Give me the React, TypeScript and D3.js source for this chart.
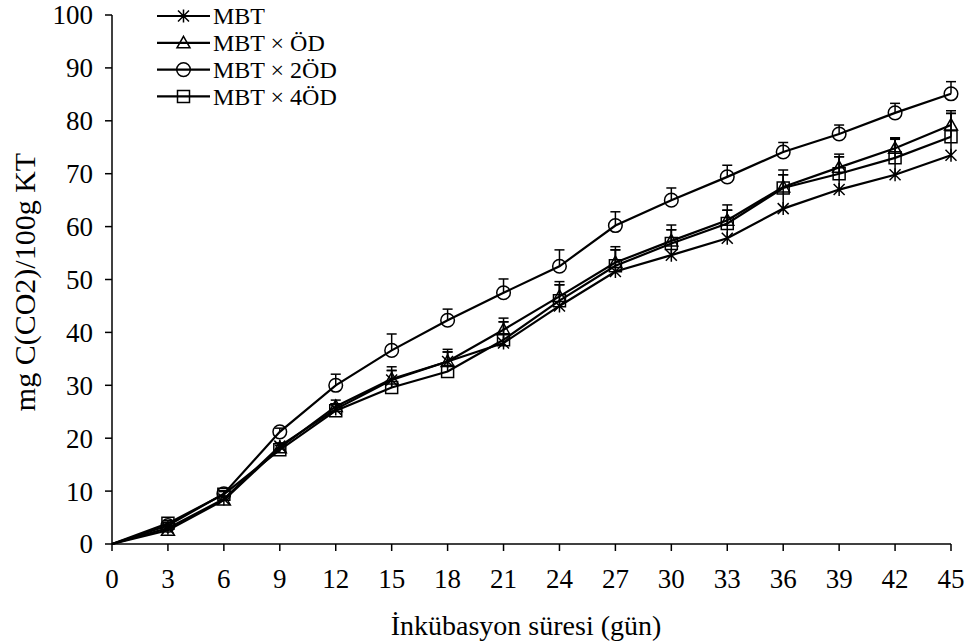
import React from "react";
import * as d3 from "d3";

const days = [0, 3, 6, 9, 12, 15, 18, 21, 24, 27, 30, 33, 36, 39, 42, 45];
const seriesNames = ["MBT", "MBT × ÖD", "MBT × 2ÖD", "MBT × 4ÖD"];
const mbt = [0, 3, 8.5, 18.5, 25.5, 31, 34.5, 38, 45, 51.5, 54.6, 57.8, 63.4, 67, 69.8, 73.5];
const mbtOd = [0, 2.6, 8.3, 18.2, 26, 31.2, 34.5, 40.5, 46.8, 53.2, 57.3, 61.2, 67.5, 71.2, 74.8, 79.2];
const mbt2Od = [0, 3.5, 9.5, 21.2, 30, 36.6, 42.3, 47.5, 52.5, 60.2, 65, 69.4, 74.1, 77.5, 81.5, 85.1];
const mbt4Od = [0, 3.9, 9.4, 17.8, 25.2, 29.6, 32.6, 38.6, 46, 52.6, 56.8, 60.6, 67.3, 70, 73, 77];
const errMbt = [0, 0.5, 0.5, 0.6, 1.0, 1.8, 1.8, 4.0, 4.0, 4.1, 4.8, 5.3, 6.4, 6.2, 6.9, 7.9];
const errMbtOd = [0, 0.6, 0.6, 0.8, 1.2, 2.3, 2.3, 2.2, 2.8, 3.0, 3.0, 2.9, 3.2, 2.5, 2.0, 2.7];
const errMbt2Od = [0, 0.6, 0.6, 0.7, 2.1, 3.1, 2.1, 2.6, 3.1, 2.6, 2.3, 2.2, 1.8, 1.7, 1.8, 2.3];
const errMbt4Od = [0, 0.5, 0.5, 0.8, 1.3, 3.2, 3.7, 3.4, 3.0, 3.0, 2.6, 2.5, 2.5, 3.2, 3.5, 4.4];
const yTicks = [0, 10, 20, 30, 40, 50, 60, 70, 80, 90, 100];
const xTicks = days;
const yTitle = "mg C(CO2)/100g KT";
const xTitle = "İnkübasyon süresi (gün)";

const W = 968;
const H = 642;
const FONT = "'Liberation Serif', 'Times New Roman', serif";
const FS = 27;
const LEGEND_FS = 24;

type Marker = "star" | "triangle" | "circle" | "square";

function markerPath(m: Marker): string {
  if (m === "star") {
    const s = 6.5;
    const d = 5.5;
    return `M0,${-s}L0,${s}M${-d},${-d}L${d},${d}M${-d},${d}L${d},${-d}`;
  }
  if (m === "triangle") {
    return "M0,-6.5L6.5,5L-6.5,5Z";
  }
  if (m === "circle") {
    const r = 6.8;
    return `M${r},0A${r},${r},0,1,1,${-r},0A${r},${r},0,1,1,${r},0Z`;
  }
  return "M-6,-6L6,-6L6,6L-6,6Z";
}

export default function App() {
  const x = d3.scaleLinear().domain([0, 45]).range([112, 951]);
  const y = d3.scaleLinear().domain([0, 100]).range([544, 15]);
  const series = [
    { name: seriesNames[0], values: mbt, err: errMbt, marker: "star" as Marker },
    { name: seriesNames[1], values: mbtOd, err: errMbtOd, marker: "triangle" as Marker },
    { name: seriesNames[2], values: mbt2Od, err: errMbt2Od, marker: "circle" as Marker },
    { name: seriesNames[3], values: mbt4Od, err: errMbt4Od, marker: "square" as Marker },
  ];
  const line = d3
    .line<number>()
    .x((_, i) => x(days[i]))
    .y((v) => y(v));

  return (
    <svg
      width={W}
      height={H}
      style={{ position: "absolute", left: 0, top: 0, background: "#fff" }}
      fontFamily={FONT}
    >
      <rect width={W} height={H} fill="#fff" />
      <line x1={x(0)} x2={x(0)} y1={y(0)} y2={y(100)} stroke="#000" strokeWidth={1.5} />
      <line x1={x(0)} x2={x(45)} y1={y(0)} y2={y(0)} stroke="#000" strokeWidth={1.5} />
      {yTicks.map((t) => (
        <g key={"y" + t}>
          <line x1={x(0) - 7} x2={x(0)} y1={y(t)} y2={y(t)} stroke="#000" strokeWidth={1.5} />
          <text x={93} y={y(t)} dy="0.35em" textAnchor="end" fontSize={FS}>
            {t}
          </text>
        </g>
      ))}
      {xTicks.map((t) => (
        <g key={"x" + t}>
          <line x1={x(t)} x2={x(t)} y1={y(0)} y2={y(0) + 7} stroke="#000" strokeWidth={1.5} />
          <text x={x(t)} y={588} textAnchor="middle" fontSize={FS}>
            {t}
          </text>
        </g>
      ))}
      <text x={526} y={635} textAnchor="middle" fontSize={28}>
        {xTitle}
      </text>
      <text
        transform={`translate(35,282) rotate(-90)`}
        textAnchor="middle"
        fontSize={30}
      >
        {yTitle}
      </text>
      {series.map((s) => (
        <g key={s.name}>
          <path d={line(s.values) || ""} fill="none" stroke="#000" strokeWidth={2.2} />
          {s.values.map((v, i) =>
            s.err[i] > 0 ? (
              <g key={i}>
                <line x1={x(days[i])} x2={x(days[i])} y1={y(v)} y2={y(v + s.err[i])} stroke="#000" strokeWidth={1.5} />
                <line x1={x(days[i]) - 5} x2={x(days[i]) + 5} y1={y(v + s.err[i])} y2={y(v + s.err[i])} stroke="#000" strokeWidth={1.5} />
              </g>
            ) : null
          )}
          {s.values.map((v, i) =>
            i === 0 ? null : (
              <path
                key={"m" + i}
                transform={`translate(${x(days[i])},${y(v)})`}
                d={markerPath(s.marker)}
                fill="none"
                stroke="#000"
                strokeWidth={1.5}
              />
            )
          )}
        </g>
      ))}
      {series.map((s, i) => {
        const ly = 16 + i * 26.8;
        return (
          <g key={"lg" + i}>
            <line x1={157} x2={210} y1={ly} y2={ly} stroke="#000" strokeWidth={2.2} />
            <path transform={`translate(183.5,${ly})`} d={markerPath(s.marker)} fill="none" stroke="#000" strokeWidth={1.5} />
            <text x={213} y={ly} dy="0.35em" fontSize={LEGEND_FS}>
              {s.name}
            </text>
          </g>
        );
      })}
    </svg>
  );
}
